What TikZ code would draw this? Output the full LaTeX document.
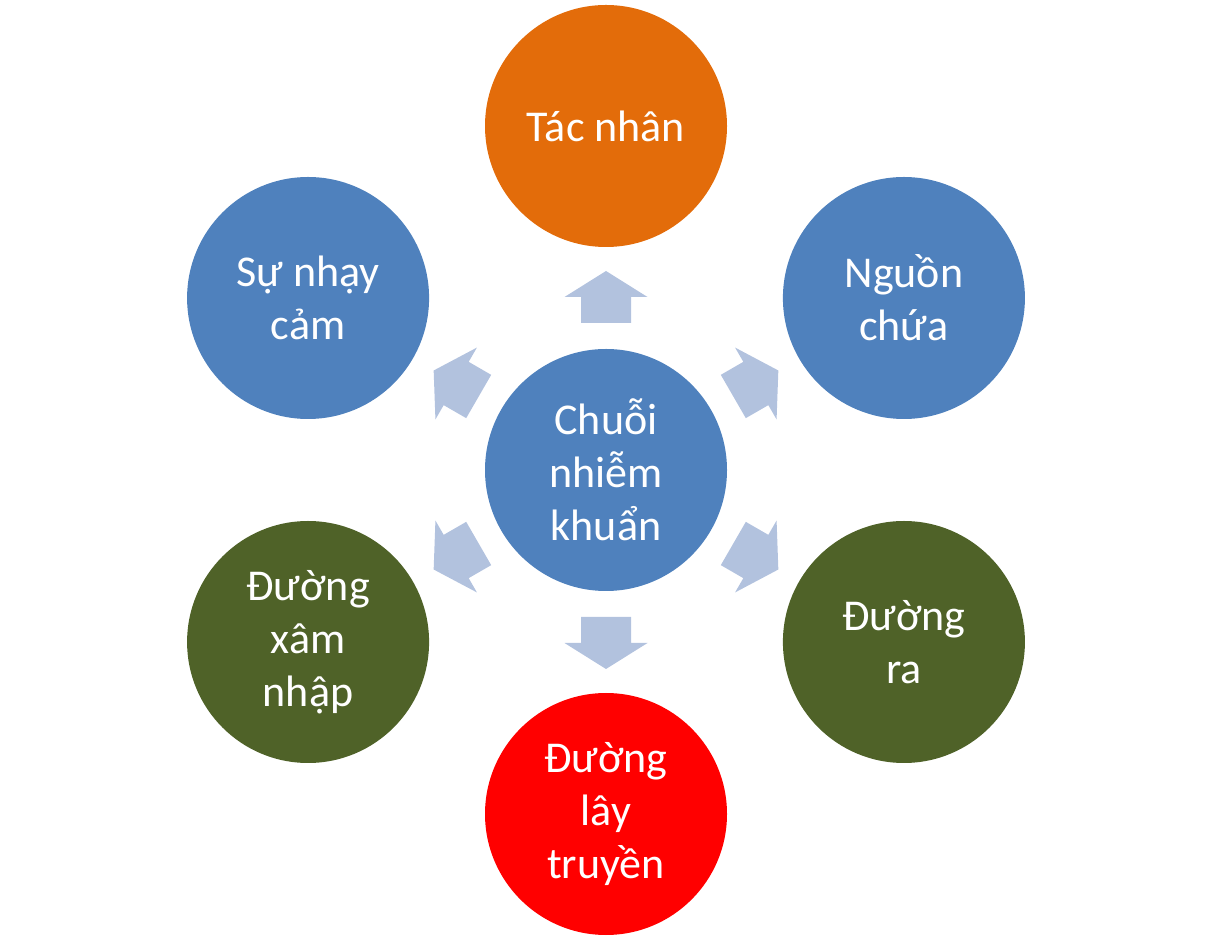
\documentclass[tikz,border=0pt]{standalone}
\usepackage{fontspec}
\setmainfont{Carlito}
\usetikzlibrary{calc}
\definecolor{cblue}{HTML}{4F81BD}
\definecolor{corange}{HTML}{E36C0A}
\definecolor{cgreen}{HTML}{4F6228}
\definecolor{cred}{HTML}{FF0000}
\definecolor{carrow}{HTML}{B2C2DE}
\begin{document}
\begin{tikzpicture}[x=1pt,y=1pt,
  circ/.style={circle, minimum size=242pt, inner sep=0pt, text=white,
    font=\fontsize{44}{53}\selectfont, align=center},
  blockarrow/.style={fill=carrow, draw=none}]
\useasboundingbox (0,0) rectangle (1213,940);
\node[circ, fill=cblue] (c) at (606,470) {Chuỗi\\nhiễm\\khuẩn};
\node[circ, fill=corange] (t) at ($(c)+(90:344)$) {Tác nhân};
\node[circ, fill=cblue] (n) at ($(c)+(30:344)$) {Nguồn\\chứa};
\node[circ, fill=cgreen] (r) at ($(c)+(-30:344)$) {Đường\\ra};
\node[circ, fill=cred] (l) at ($(c)+(-90:344)$) {Đường\\lây\\truyền};
\node[circ, fill=cgreen] (x) at ($(c)+(-150:344)$) {Đường\\xâm\\nhập};
\node[circ, fill=cblue] (s) at ($(c)+(150:344)$) {Sự nhạy\\cảm};
\foreach \a in {90,30,-30,-90,-150,150}{
  \begin{scope}[shift={(c)}, rotate=\a]
    \fill[blockarrow] (147,-25) -- (173,-25) -- (173,-41.5) -- (199,0)
      -- (173,41.5) -- (173,25) -- (147,25) -- cycle;
  \end{scope}
}
\end{tikzpicture}
\end{document}
